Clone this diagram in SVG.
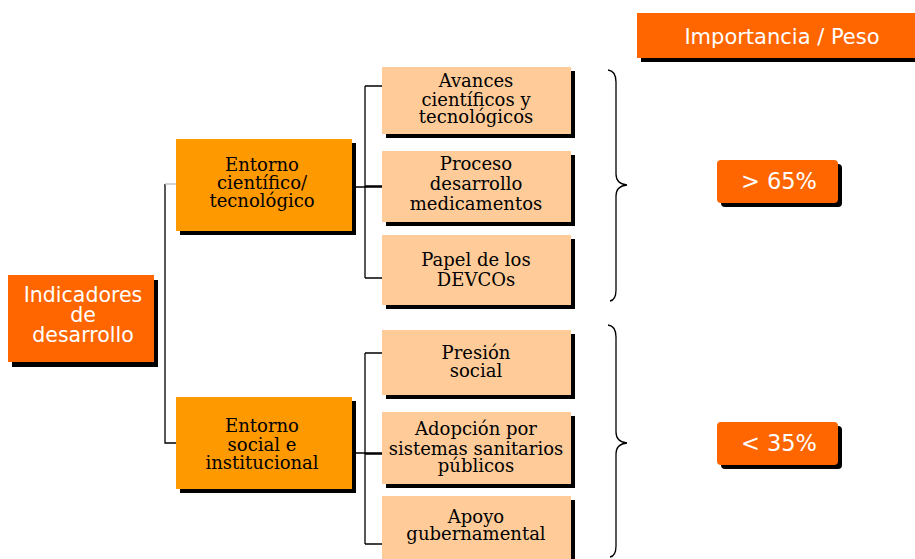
<svg xmlns="http://www.w3.org/2000/svg" width="915" height="559" viewBox="0 0 915 559">
<style>
.sh{fill:#000}
.dk{fill:#FF6600}
.md{fill:#FF9900}
.lt{fill:#FFCC99}
.ss{font-family:"DejaVu Sans","Open Sans",sans-serif;fill:#fff;text-anchor:middle}
.sf{font-family:"DejaVu Serif","Liberation Serif",serif;fill:#000;text-anchor:middle;font-size:18px}
.ln{stroke:#000;stroke-width:1.3;fill:none}
</style>
<rect width="915" height="559" fill="#fff"/>
<g id="connectors">
<path class="ln" d="M165,184 V443 H176"/>
<path d="M165,184 H176" stroke="#bbb" stroke-width="1.3"/>
<path class="ln" d="M352,187 H382 M365,86 V278 M365,86 H382 M365,186 H382 M365,278 H382"/>
<path class="ln" d="M352,453 H382 M365,353 V544 M365,353 H382 M365,454 H382 M365,544 H382"/>
<path class="ln" d="M608,70 Q616,71 616,82 V174 Q616,184 627,185 Q616,186 616,196 V290 Q616,300 610,301"/>
<path class="ln" d="M608,325 Q616,326 616,337 V432 Q616,442 627,443 Q616,444 616,454 V546 Q616,556 610,557"/>
</g>
<g id="indicadores">
<rect class="sh" x="12" y="280" width="146" height="87"/>
<rect class="dk" x="8" y="275" width="146" height="87"/>
<text class="ss" font-size="20.5"><tspan x="83" y="302">Indicadores</tspan><tspan x="83" y="322">de</tspan><tspan x="83" y="342">desarrollo</tspan></text>
</g>
<g id="entorno-cientifico">
<rect class="sh" x="180" y="143" width="176" height="92"/>
<rect class="md" x="176" y="139" width="176" height="92"/>
<text class="sf"><tspan x="262" y="171">Entorno</tspan><tspan x="262" y="189">científico/</tspan><tspan x="262" y="207">tecnológico</tspan></text>
</g>
<g id="entorno-social">
<rect class="sh" x="180" y="401" width="176" height="92"/>
<rect class="md" x="176" y="397" width="176" height="92"/>
<text class="sf"><tspan x="262" y="432">Entorno</tspan><tspan x="262" y="451">social e</tspan><tspan x="262" y="469">institucional</tspan></text>
</g>
<g id="avances">
<rect class="sh" x="386" y="71" width="189" height="67"/>
<rect class="lt" x="382" y="67" width="189" height="67"/>
<text class="sf"><tspan x="476" y="87">Avances</tspan><tspan x="476" y="106">científicos y</tspan><tspan x="476" y="123">tecnológicos</tspan></text>
</g>
<g id="proceso">
<rect class="sh" x="386" y="155" width="189" height="71"/>
<rect class="lt" x="382" y="151" width="189" height="71"/>
<text class="sf"><tspan x="476" y="170">Proceso</tspan><tspan x="476" y="190">desarrollo</tspan><tspan x="476" y="210">medicamentos</tspan></text>
</g>
<g id="papel">
<rect class="sh" x="386" y="239" width="189" height="70"/>
<rect class="lt" x="382" y="235" width="189" height="70"/>
<text class="sf"><tspan x="476" y="266">Papel de los</tspan><tspan x="476" y="286">DEVCOs</tspan></text>
</g>
<g id="presion">
<rect class="sh" x="386" y="334" width="189" height="65"/>
<rect class="lt" x="382" y="330" width="189" height="65"/>
<text class="sf"><tspan x="476" y="359">Presión</tspan><tspan x="476" y="377">social</tspan></text>
</g>
<g id="adopcion">
<rect class="sh" x="386" y="416" width="189" height="72"/>
<rect class="lt" x="382" y="412" width="189" height="72"/>
<text class="sf"><tspan x="476" y="435">Adopción por</tspan><tspan x="476" y="455">sistemas sanitarios</tspan><tspan x="476" y="472">públicos</tspan></text>
</g>
<g id="apoyo">
<rect class="sh" x="386" y="500" width="189" height="66"/>
<rect class="lt" x="382" y="496" width="189" height="66"/>
<text class="sf"><tspan x="476" y="523">Apoyo</tspan><tspan x="476" y="540">gubernamental</tspan></text>
</g>
<g id="importancia">
<rect class="sh" x="641" y="17" width="278" height="45"/>
<rect class="dk" x="637" y="13" width="278" height="45"/>
<text class="ss" font-size="21" x="782" y="44">Importancia / Peso</text>
</g>
<g id="mayor65">
<rect class="sh" x="721" y="164" width="121" height="43" rx="4"/>
<rect class="dk" x="717" y="160" width="121" height="43" rx="4"/>
<text class="ss" font-size="22.5" x="779" y="189">&gt; 65%</text>
</g>
<g id="menor35">
<rect class="sh" x="721" y="426" width="121" height="43" rx="4"/>
<rect class="dk" x="717" y="422" width="121" height="43" rx="4"/>
<text class="ss" font-size="22.5" x="779" y="451">&lt; 35%</text>
</g>
</svg>
